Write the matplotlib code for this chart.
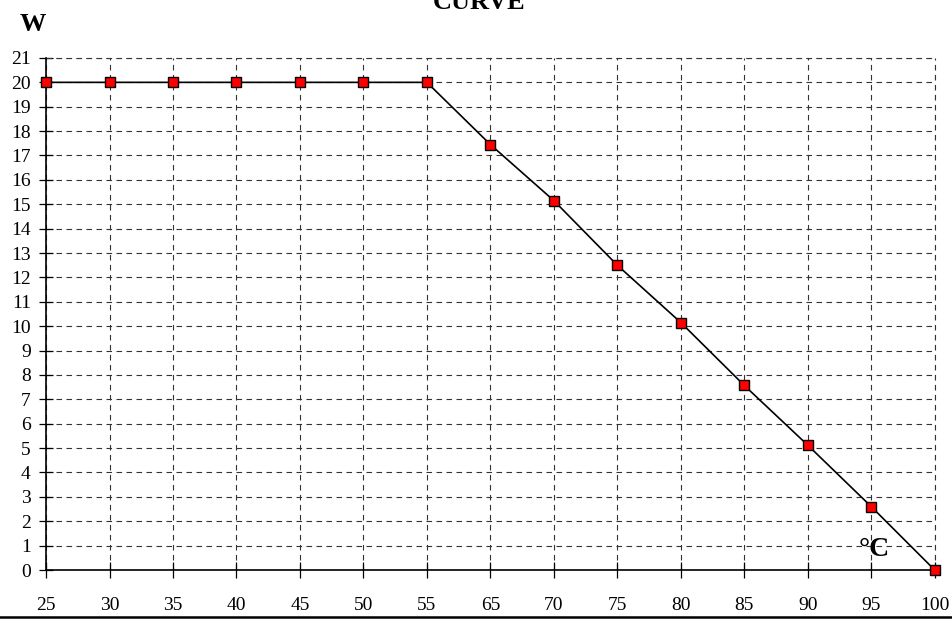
import matplotlib
matplotlib.use('Agg')
import matplotlib.pyplot as plt
from matplotlib.lines import Line2D

plt.rcParams['font.family'] = ['Liberation Serif', 'DejaVu Serif']

# ---------------------- data ----------------------
temps = ['25', '30', '35', '40', '45', '50', '55', '65', '70', '75', '80', '85', '90', '95', '100']
watts = [20, 20, 20, 20, 20, 20, 20, 17.45, 15.15, 12.5, 10.15, 7.57, 5.12, 2.6, 0]
y_ticks = list(range(0, 22))

# ---------------------- figure ----------------------
fig = plt.figure(figsize=(9.53, 6.22), dpi=100, facecolor='white')
ax = fig.add_axes([0.0483, 0.0836, 0.9325, 0.8232])

xs = list(range(len(temps)))
ax.plot(xs, watts, color='black', linewidth=1.2, marker='s', markersize=7,
        markerfacecolor='#ff0000', markeredgecolor='black', markeredgewidth=1.0,
        zorder=5, clip_on=False)

ax.set_xlim(0, len(temps) - 1)
ax.set_ylim(0, 21)
ax.set_xticks(xs)
ax.set_xticklabels(temps)
ax.set_yticks(y_ticks)

for s in ['top', 'right']:
    ax.spines[s].set_visible(False)
for s in ['left', 'bottom']:
    ax.spines[s].set_linewidth(1.2)

ax.tick_params(axis='x', direction='inout', length=11, width=0.9, pad=14, labelsize=14)
ax.tick_params(axis='y', direction='inout', length=10, width=0.9, pad=6, labelsize=14)

# dashed grid incl. top and right borders
ax.grid(True, color='#333333', linestyle=(0, (5, 4)), linewidth=0.8)
ax.axhline(21, color='#333333', linestyle=(0, (5, 4)), linewidth=0.8, clip_on=False)
ax.axvline(len(temps) - 1, color='#333333', linestyle=(0, (5, 4)), linewidth=0.8, clip_on=False)
ax.set_axisbelow(True)

ax.text(13.05, 0.85, '°C', fontsize=20, fontweight='bold', ha='center', va='center', zorder=6)

fig.text(0.021, 0.96, 'W', fontsize=19, fontweight='bold', ha='left', va='center')
fig.text(0.503, 1 - 14 / 622, 'CURVE', fontsize=19, fontweight='bold', ha='center', va='bottom')

fig.add_artist(Line2D([0, 1], [1 - 617 / 622, 1 - 617 / 622], color='black', linewidth=1.8))

plt.savefig('out.png', dpi=100)
